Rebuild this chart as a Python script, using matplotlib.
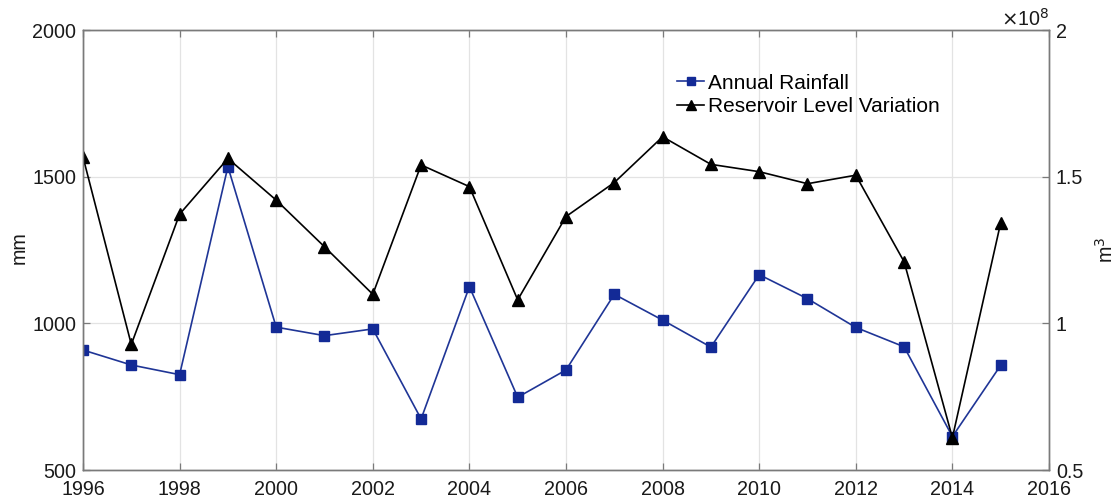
import matplotlib
matplotlib.use("Agg")
import matplotlib.pyplot as plt
from matplotlib.ticker import FixedLocator

plt.rcParams['font.family'] = ['Liberation Sans', 'DejaVu Sans']

years = list(range(1996, 2016))
rainfall_mm = [909, 858, 825, 1534, 987, 958, 981, 674, 1125, 748,
               841, 1099, 1011, 919, 1166, 1084, 986, 920, 614, 857]
reservoir_1e8_m3 = [1.567, 0.928, 1.372, 1.562, 1.420, 1.261, 1.099, 1.540, 1.466, 1.080,
                    1.364, 1.480, 1.636, 1.542, 1.517, 1.476, 1.505, 1.210, 0.610, 1.343]
x_ticks = list(range(1996, 2017, 2))
left_ticks = [500, 1000, 1500, 2000]
right_ticks = [0.5, 1, 1.5, 2]
right_labels = ['0.5', '1', '1.5', '2']

spine_col = '#7a7a7a'
grid_col = '#e3e3e3'
text_col = '#1a1a1a'
fs = 14.2

fig = plt.figure(figsize=(11.19, 5.0), dpi=100)
ax = fig.add_axes([83 / 1119, 30 / 500, (1049 - 83) / 1119, 440 / 500])
ax2 = ax.twinx()

l1, = ax.plot(years, rainfall_mm, color='#1f3596', lw=1.2, marker='s',
              markersize=6.5, markerfacecolor='#132a96', markeredgecolor='#132a96',
              label='Annual Rainfall')
l2, = ax2.plot(years, reservoir_1e8_m3, color='black', lw=1.2, marker='^',
               markersize=9, markerfacecolor='black', markeredgecolor='black',
               label='Reservoir Level Variation')

ax.set_xlim(1996, 2016)
ax.set_ylim(500, 2000)
ax2.set_ylim(0.5, 2.0)
ax.xaxis.set_major_locator(FixedLocator(x_ticks))
ax.yaxis.set_major_locator(FixedLocator(left_ticks))
ax2.yaxis.set_major_locator(FixedLocator(right_ticks))
ax2.set_yticklabels(right_labels)

ax.grid(True, color=grid_col, lw=0.9)
ax.set_axisbelow(True)

for a in (ax, ax2):
    for s in a.spines.values():
        s.set_color(spine_col)
        s.set_linewidth(1.0)
    a.tick_params(direction='in', length=5, width=0.9, color=spine_col,
                  labelsize=fs, labelcolor=text_col, pad=5)
ax.tick_params(axis='x', pad=7.5)
ax.tick_params(top=True, right=False)
ax2.tick_params(right=True, left=False)

ax.set_ylabel('mm', fontsize=fs, color=text_col)
ax.yaxis.set_label_coords(-0.066, 0.505)
ax.yaxis.label.set_verticalalignment('center')
ax2.set_ylabel('m$^3$', fontsize=fs, color=text_col, rotation=90)
ax2.yaxis.set_label_coords(1.0585, 0.5)
ax2.yaxis.label.set_verticalalignment('center')

ax2.text(1.0, 1.0, r'$\times$10$^8$', transform=ax2.transAxes,
         ha='right', va='bottom', fontsize=fs, color=text_col)

ax2.legend(handles=[l1, l2], loc='upper left', bbox_to_anchor=(0.6066, 0.92),
           frameon=False, fontsize=15, handlelength=1.3, handletextpad=0.15,
           borderaxespad=0, labelspacing=0.22, markerscale=0.8)

fig.savefig('out.png', dpi=100, facecolor='white')
